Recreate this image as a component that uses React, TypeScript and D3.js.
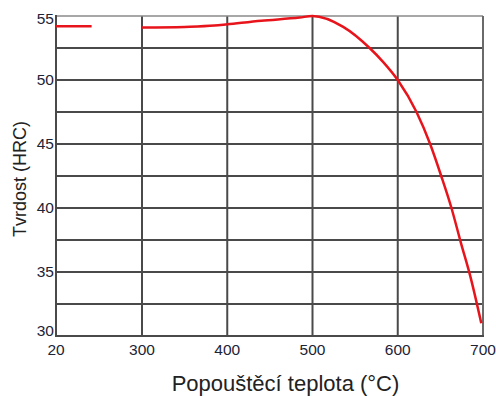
import React from "react";
import * as d3 from "d3";

const xTicks = [20, 300, 400, 500, 600, 700];
const yTicks = [30, 35, 40, 45, 50, 55];
const yGrid = [32.5, 35, 37.5, 40, 42.5, 45, 47.5, 50, 52.5];

const seg1T = [20, 136];
const seg1H = [54.2, 54.2];

const seg2T = [300, 350, 385, 400, 440, 485, 500, 536, 567, 583, 600, 622, 638, 651, 663, 674, 685, 698];
const seg2H = [54.1, 54.15, 54.25, 54.35, 54.63, 54.88, 55.0, 54.15, 52.5, 51.4, 50.0, 47.5, 45, 42.5, 40, 37.3, 34.7, 31];

const xLabel = "Popouštěcí teplota (°C)";
const yLabel = "Tvrdost (HRC)";

export default function App() {
  const W = 496, H = 396;
  const L = 56, R = 483, T = 16, B = 336;
  const x = d3.scaleLinear().domain([20, 300, 700]).range([L, 142, R]);
  const y = d3.scaleLinear().domain([30, 55]).range([B, T]);
  const line = d3.line<[number, number]>()
    .x(d => x(d[0]))
    .y(d => y(d[1]))
    .curve(d3.curveMonotoneX);
  const s1 = seg1T.map((t, i) => [t, seg1H[i]] as [number, number]);
  const s2 = seg2T.map((t, i) => [t, seg2H[i]] as [number, number]);
  const font = "Liberation Sans, Arial, sans-serif";
  const gridColor = "#4a4a4a";
  return (
    <svg width={W} height={H} style={{ position: "absolute", left: 0, top: 0, background: "#fff" }}>
      {yGrid.map(v => (
        <line key={"h" + v} x1={L} x2={R} y1={y(v)} y2={y(v)} stroke={gridColor} strokeWidth={2} />
      ))}
      {xTicks.slice(1, -1).map(v => (
        <line key={"v" + v} x1={x(v)} x2={x(v)} y1={T} y2={B} stroke={gridColor} strokeWidth={2} />
      ))}
      <line x1={L} x2={R} y1={T} y2={T} stroke="#8a8a8a" strokeWidth={1.5} />
      <line x1={R} x2={R} y1={T} y2={B} stroke="#6a6a6a" strokeWidth={2} />
      <line x1={L} x2={L} y1={T - 1} y2={B + 1} stroke={gridColor} strokeWidth={2} />
      <line x1={L - 1} x2={R + 1} y1={B} y2={B} stroke={gridColor} strokeWidth={2} />
      <path d={line(s1) || ""} fill="none" stroke="#e8141c" strokeWidth={2.5} />
      <path d={line(s2) || ""} fill="none" stroke="#e8141c" strokeWidth={2.5} />
      {yTicks.map(v => (
        <text key={"yt" + v} x={L - 2} y={y(v)} dy={v === 30 ? "0" : v === 55 ? "0.5em" : "0.35em"}
          textAnchor="end" fontFamily={font} fontSize={15.5} fill="#1c2436">{v}</text>
      ))}
      {xTicks.map(v => (
        <text key={"xt" + v} x={x(v)} y={355} textAnchor="middle" fontFamily={font} fontSize={15.5} fill="#1c2436">{v}</text>
      ))}
      <text x={285.5} y={390.5} textAnchor="middle" fontFamily={font} fontSize={22} fill="#222">{xLabel}</text>
      <text transform={`translate(26,179) rotate(-90)`} textAnchor="middle" fontFamily={font} fontSize={18} fill="#222">{yLabel}</text>
    </svg>
  );
}
